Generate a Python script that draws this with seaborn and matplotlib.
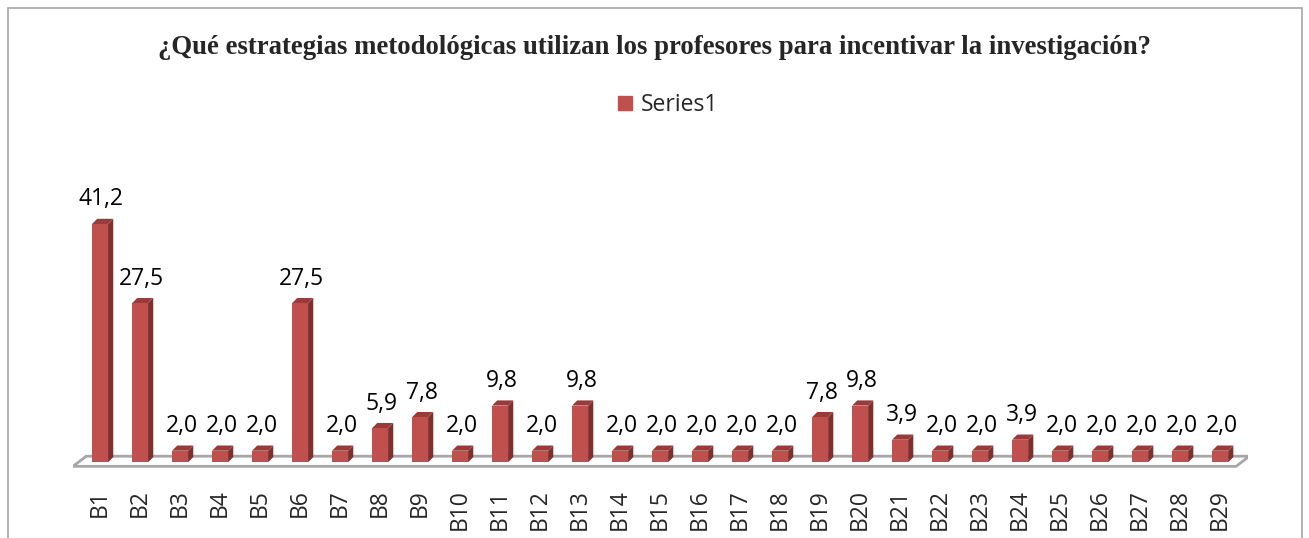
import matplotlib
matplotlib.use('Agg')
import matplotlib.pyplot as plt
import matplotlib.patches as mpatches
import seaborn as sns
import pandas as pd

categories = ['B' + str(i) for i in range(1, 30)]
values = [41.2, 27.5, 2.0, 2.0, 2.0, 27.5, 2.0, 5.9, 7.8, 2.0,
          9.8, 2.0, 9.8, 2.0, 2.0, 2.0, 2.0, 2.0, 7.8, 9.8,
          3.9, 2.0, 2.0, 3.9, 2.0, 2.0, 2.0, 2.0, 2.0]
series_name = 'Series1'
title = '¿Qué estrategias metodológicas utilizan los profesores para incentivar la investigación?'

df = pd.DataFrame({'cat': categories, 'val': values})

front = '#C0504D'
side = '#7F2F2D'
top = '#9B3B39'

sns.set_style('white')
plt.rcParams['font.family'] = ['Open Sans', 'DejaVu Sans']

fig = plt.figure(figsize=(13.09, 5.38), dpi=100)
ax = fig.add_axes([0.0558, 0.130, 0.8977, 0.5805])

sns.barplot(data=df, x='cat', y='val', color=front, width=0.4,
            linewidth=0, saturation=1, ax=ax)

# fake 3D: side and top faces
dx, dy = 0.13, 0.9
for p in list(ax.patches):
    x0 = p.get_x()
    w = p.get_width()
    h = p.get_height()
    ax.add_patch(mpatches.Polygon([(x0 + w, 0), (x0 + w + dx, dy), (x0 + w + dx, h + dy), (x0 + w, h)],
                                  closed=True, facecolor=side, edgecolor='none', zorder=3))
    ax.add_patch(mpatches.Polygon([(x0, h), (x0 + dx, h + dy), (x0 + w + dx, h + dy), (x0 + w, h)],
                                  closed=True, facecolor=top, edgecolor='none', zorder=3))
    p.set_zorder(4)
    lab = f'{h:.1f}'.replace('.', ',')
    ax.annotate(lab, (x0 + w / 2, h), xytext=(1, 9), textcoords='offset points',
                ha='center', va='bottom', fontsize=16.5, color='black')

# floor
xl, xr = -0.675, 28.4
fdx, fdy = 0.33, 1.75
ax.add_patch(mpatches.Polygon([(xl, -0.7), (xr, -0.7), (xr + fdx, -0.7 + fdy), (xl + fdx, -0.7 + fdy)],
                              closed=True, facecolor='white', edgecolor='#A6A6A6', linewidth=2, zorder=1))

ax.set_xlim(-0.675, 28.7)
ax.set_ylim(-1, 53)
ax.set_xlabel('')
ax.set_ylabel('')
ax.set_yticks([])
sns.despine(ax=ax, left=True, bottom=True)
ax.tick_params(axis='x', length=0, pad=15, labelsize=16.5, labelrotation=90)

fig.text(0.5, 1 - 47 / 538, title, ha='center', va='center', fontsize=19.3,
         fontweight='bold', family=['Liberation Serif', 'DejaVu Serif'])

handle = mpatches.Patch(color=front, label=series_name)
fig.legend(handles=[handle], loc='center', bbox_to_anchor=(668 / 1309, 1 - 105 / 538),
           frameon=False, fontsize=16.5, handlelength=0.6, handleheight=0.6, handletextpad=0.4)

fig.patches.append(mpatches.Rectangle((8 / 1309, -0.1), 1294 / 1309, 1.1 - 8 / 538,
                                      transform=fig.transFigure, fill=False,
                                      edgecolor='#A6A6A6', linewidth=1.2))

fig.savefig('out.png', dpi=100)
